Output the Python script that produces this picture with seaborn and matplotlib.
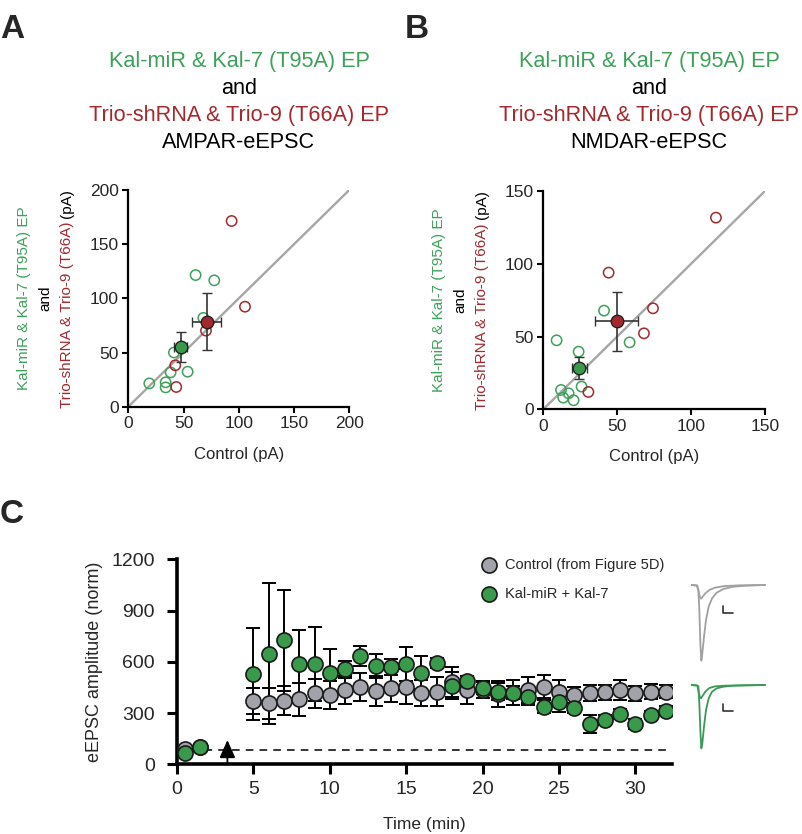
import numpy as np
import pandas as pd
import matplotlib
matplotlib.use("Agg")
import matplotlib.pyplot as plt
import seaborn as sns

sns.set_theme(style="ticks")
plt.rcParams["font.family"] = ["Liberation Sans", "DejaVu Sans"]

GREEN = "#3da159"
GREEN_FILL = "#3a9a4c"
RED = "#a3292d"
DIAG = "#a6a6a6"
GRAY_FILL = "#a2a3aa"

# A: AMPAR-eEPSC, control vs transfected (pA)
a_kal_ctrl = [19, 33.8, 33.8, 38.3, 41.3, 53.7, 60.9, 77.8, 67.9]
a_kal_exp = [21.5, 22.5, 17.8, 31.7, 50, 32.3, 121.5, 116.6, 82]
a_trio_ctrl = [93.5, 105.6, 70.3, 42.5, 43.4]
a_trio_exp = [171.4, 92.3, 70.2, 38.2, 18.2]
a_kal_mean = (47.4, 55.0)
a_kal_sem = (6, 14)
a_trio_mean = (70.9, 78.5)
a_trio_sem = (13, 26.5)

# B: NMDAR-eEPSC
b_kal_ctrl = [9.0, 23.9, 41.1, 58.4, 25.9, 12.0, 13.5, 17.1, 20.5]
b_kal_exp = [47.4, 39.6, 67.8, 46.0, 15.6, 13.3, 8.0, 11.0, 6.2]
b_trio_ctrl = [116.8, 44.2, 74.2, 68.1, 30.5]
b_trio_exp = [131.7, 93.9, 69.4, 52.2, 11.9]
b_kal_mean = (24.4, 28.4)
b_kal_sem = (5, 7.4)
b_trio_mean = (49.6, 60.5)
b_trio_sem = (14.7, 20.1)

# C: time course
time_min = [0.5, 1.5] + list(range(5, 33))
ctrl_amp = [88, 100, 371, 357, 373, 380, 416, 406, 435, 455, 429, 445, 455, 416,
            425, 484, 435, 435, 412, 420, 435, 455, 425, 406, 416, 421, 435, 416,
            425, 425]
ctrl_err = [0, 0, 78, 90, 85, 95, 85, 82, 82, 82, 86, 80, 100, 75, 85, 88, 82, 45,
            75, 75, 74, 68, 69, 49, 48, 45, 59, 45, 45, 39]
kal_amp = [68, 101, 527, 648, 726, 585, 589, 533, 556, 634, 576, 570, 587, 537,
           591, 460, 488, 449, 425, 420, 396, 338, 367, 328, 236, 260, 295, 236,
           289, 314]
kal_err = [0, 0, 270, 412, 294, 201, 217, 142, 49, 61, 68, 45, 98, 97, 30, 80, 30,
           40, 50, 40, 50, 40, 60, 30, 55, 30, 30, 30, 25, 25]
baseline = 85
arrow_time = 3.3

# example traces (arbitrary units)
tr_t_big = [35, 50, 55, 58, 61, 64, 67, 72, 78, 86, 96, 110, 130, 160, 200, 255]
ctrl_big = [0, -1, -15, -75, -175, -227, -205, -155, -105, -65, -40, -23, -12, -5, -2, 0]
kal_big = [0, -1, -3, -55, -135, -190, -175, -125, -75, -40, -20, -10, -5, -2, -1, 0]
tr_t_small = [35, 52, 56, 60, 63, 68, 76, 88, 105, 135, 180, 255]
ctrl_small = [0, -2, -20, -37, -41, -35, -25, -15, -8, -3, -1, 0]
kal_small = [0, -2, -20, -38, -40, -32, -20, -9, -4, -2, -1, 0]
bar_t, bar_amp = 32, 20

W, H = 802, 834
fig = plt.figure(figsize=(W / 100, H / 100), dpi=100)


def fx(px):
    return px / W


def fy(py):
    return 1 - py / H


def scatter_panel(ax, kx, ky, tx, ty, km, ke, tm, te, lim):
    sns.lineplot(x=[0, lim], y=[0, lim], color=DIAG, lw=1.7, ax=ax, zorder=1)
    sns.scatterplot(x=kx, y=ky, ax=ax, facecolors="none", edgecolor=GREEN,
                    s=55, linewidth=1.1, zorder=3)
    sns.scatterplot(x=tx, y=ty, ax=ax, facecolors="none", edgecolor=RED,
                    s=55, linewidth=1.1, zorder=3)
    for m, e, c in [(km, ke, GREEN_FILL), (tm, te, RED)]:
        ax.errorbar(m[0], m[1], xerr=e[0], yerr=e[1], fmt="o", mfc=c, mec="#222222",
                    ms=9, mew=1.0, ecolor="#333333", elinewidth=1.2, capsize=3.5,
                    capthick=1.2, zorder=4)
    ax.set_xlim(0, lim)
    ax.set_ylim(0, lim)
    ticks = np.arange(0, lim + 1, 50)
    ax.set_xticks(ticks)
    ax.set_yticks(ticks)
    ax.tick_params(labelsize=12.5, length=4, width=1.5, color="black", pad=3)
    for s in ["left", "bottom"]:
        ax.spines[s].set_linewidth(1.6)
        ax.spines[s].set_color("black")
    sns.despine(ax=ax)
    ax.set_xlabel("Control (pA)", fontsize=12, labelpad=11)


axA = fig.add_axes([fx(128.3), fy(406.7), fx(221), 216.7 / H])
scatter_panel(axA, a_kal_ctrl, a_kal_exp, a_trio_ctrl, a_trio_exp,
              a_kal_mean, a_kal_sem, a_trio_mean, a_trio_sem, 200)
axB = fig.add_axes([fx(543.3), fy(409.3), fx(221.7), 218.3 / H])
scatter_panel(axB, b_kal_ctrl, b_kal_exp, b_trio_ctrl, b_trio_exp,
              b_kal_mean, b_kal_sem, b_trio_mean, b_trio_sem, 150)

# titles
for cx, sub in [(239, "AMPAR-eEPSC"), (649, "NMDAR-eEPSC")]:
    lines = [("Kal-miR & Kal-7 (T95A) EP", GREEN), ("and", "black"),
             ("Trio-shRNA & Trio-9 (T66A) EP", RED), (sub, "black")]
    for (txt, col), by in zip(lines, [66.5, 94, 121, 148]):
        fig.text(fx(cx), fy(by), txt, color=col, fontsize=15.6, ha="center", va="baseline")

# multi-colour y labels
renderer = fig.canvas.get_renderer()
for left, ax in [(128.3, axA), (543.3, axB)]:
    bb = ax.get_position()
    yc = (bb.y0 + bb.y1) / 2
    fig.text(fx(left - 104), yc, "Kal-miR & Kal-7 (T95A) EP", color=GREEN,
             fontsize=11, rotation=90, ha="center", va="center")
    fig.text(fx(left - 83), yc, "and", color="black", fontsize=11,
             rotation=90, ha="center", va="center")
    t1 = fig.text(fx(left - 61), 0, "Trio-shRNA & Trio-9 (T66A)", color=RED,
                  fontsize=11, rotation=90, ha="center", va="bottom")
    t2 = fig.text(fx(left - 61), 0, "(pA)", color="black", fontsize=11,
                  rotation=90, ha="center", va="bottom")
    h1 = t1.get_window_extent(renderer).height / H
    h2 = t2.get_window_extent(renderer).height / H
    gap = 4 / H
    y0 = yc - (h1 + gap + h2) / 2
    t1.set_y(y0)
    t2.set_y(y0 + h1 + gap)

# panel C
axC = fig.add_axes([fx(177), fy(764.3), fx(495), 205 / H])
df = pd.DataFrame({"time": time_min, "ctrl": ctrl_amp, "ctrl_err": ctrl_err,
                   "kal": kal_amp, "kal_err": kal_err})
axC.axhline(baseline, color="black", lw=1.1, ls=(0, (5, 4)), zorder=1)
axC.errorbar(df["time"], df["ctrl"], yerr=df["ctrl_err"], fmt="none", ecolor="black",
             elinewidth=1.4, capsize=5, capthick=1.4, zorder=2)
axC.errorbar(df["time"], df["kal"], yerr=df["kal_err"], fmt="none", ecolor="black",
             elinewidth=1.4, capsize=5, capthick=1.4, zorder=2)
sns.scatterplot(data=df, x="time", y="ctrl", ax=axC, color=GRAY_FILL, edgecolor="#1a1a1a",
                s=118, linewidth=1.2, zorder=3, label="Control (from Figure 5D)")
sns.scatterplot(data=df, x="time", y="kal", ax=axC, color=GREEN_FILL, edgecolor="#1a1a1a",
                s=118, linewidth=1.2, zorder=4, label="Kal-miR + Kal-7")
axC.annotate("", xy=(arrow_time, 142), xytext=(arrow_time, 0),
             arrowprops=dict(arrowstyle="-|>,head_width=0.4,head_length=0.9",
                             color="black", lw=1.3, shrinkA=0, shrinkB=0), zorder=5)
axC.set_xlim(0, 32.4)
axC.set_ylim(0, 1200)
axC.set_xticks(range(0, 31, 5))
axC.set_yticks(range(0, 1201, 300))
axC.tick_params(labelsize=14, length=7, width=2.2, color="black")
axC.tick_params(axis="y", pad=9)
axC.tick_params(axis="x", pad=5)
for s in ["left", "bottom"]:
    axC.spines[s].set_linewidth(2.6)
    axC.spines[s].set_color("black")
sns.despine(ax=axC)
axC.set_xlabel("Time (min)", fontsize=12.5, labelpad=14)
axC.set_ylabel("eEPSC amplitude (norm)", fontsize=13, labelpad=6)
axC.legend(frameon=False, fontsize=10.5, loc="upper left",
           bbox_to_anchor=(fx(474), fy(558)), bbox_transform=fig.transFigure,
           borderaxespad=0, borderpad=0, handletextpad=0.15, labelspacing=1.0,
           markerscale=1.0)

# example traces inset
axT = fig.add_axes([fx(690), fy(751.7), fx(76.7), 171.7 / H])
for amps, col, off in [(ctrl_big, "#a0a0a0", -45), (kal_big, "#3a9a55", -345)]:
    axT.plot(tr_t_big, np.array(amps) + off, color=col, lw=1.3)
for amps, col, off in [(ctrl_small, "#a0a0a0", -45), (kal_small, "#3a9a55", -345)]:
    axT.plot(tr_t_small, np.array(amps) + off, color=col, lw=1.3)
for off in [-128, -422]:
    axT.plot([128, 128, 128 + bar_t], [off + bar_amp, off, off], color="#333333", lw=1.2)
axT.set_xlim(30, 260)
axT.set_ylim(-545, -30)
axT.axis("off")

# panel letters
for px, py, lab in [(0, 38, "A"), (405, 38, "B"), (0, 523, "C")]:
    fig.text(fx(px), fy(py), lab, fontsize=24, fontweight="bold", ha="left", va="baseline")

fig.savefig("out.png", dpi=100)
